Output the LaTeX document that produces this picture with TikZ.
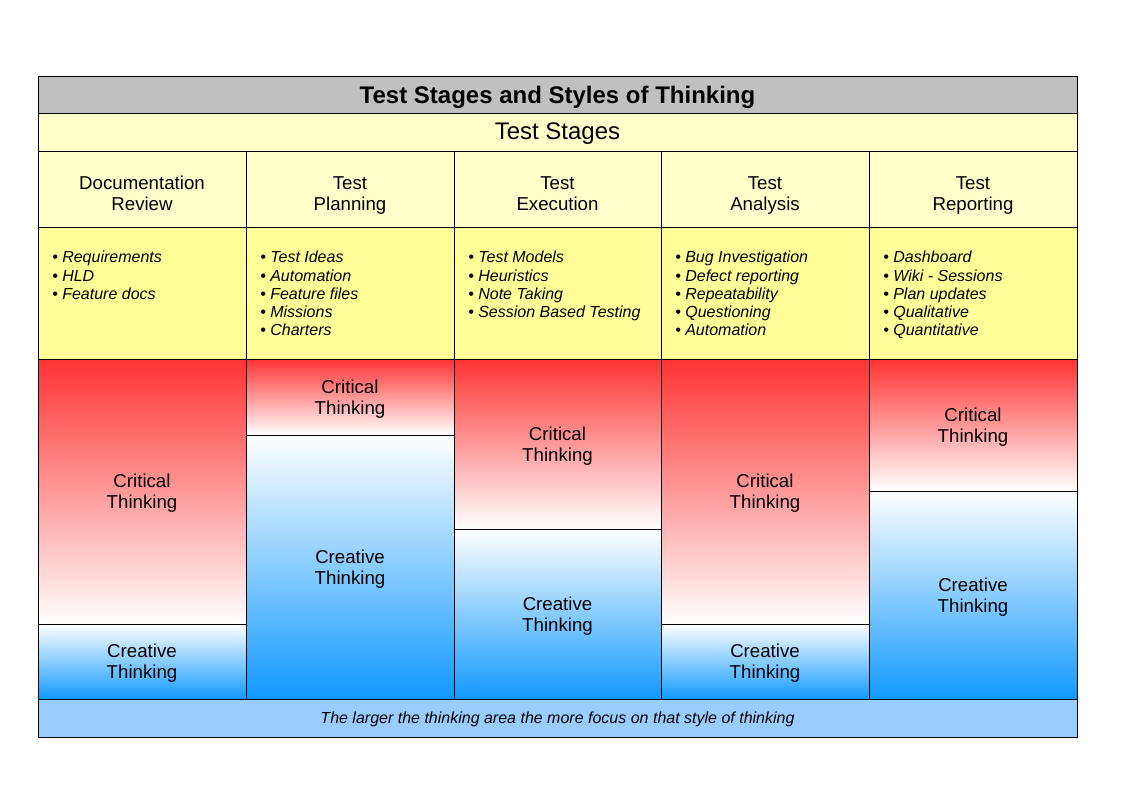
\documentclass[tikz,border=0pt]{standalone}
\usepackage{fontspec}
\setmainfont{Liberation Sans}
\definecolor{titlegray}{RGB}{192,192,192}
\definecolor{paleyellow}{RGB}{255,255,204}
\definecolor{bulletyellow}{RGB}{255,255,153}
\definecolor{critred}{RGB}{255,51,51}
\definecolor{creablue}{RGB}{17,153,255}
\definecolor{footblue}{RGB}{153,204,255}
\newcommand{\twol}[2]{\strut #1\\\strut #2}
\begin{document}
\begin{tikzpicture}[x=0.75pt,y=-0.75pt,
  cell/.style={draw=black, line width=0.75pt},
  crit/.style={cell, top color=critred, bottom color=white},
  crea/.style={cell, top color=white, bottom color=creablue},
  lbl/.style={align=center, inner sep=0pt, font=\fontsize{14}{15.8}\selectfont},
  blist/.style={align=left, anchor=north west, inner sep=0pt, font=\fontsize{12}{13.6}\selectfont\itshape},
  title/.style={inner sep=0pt, font=\fontsize{18}{20}\selectfont\bfseries},
  sub/.style={inner sep=0pt, font=\fontsize{18}{20}\selectfont},
  foot/.style={inner sep=0pt, font=\fontsize{12}{14}\selectfont\itshape}]
\useasboundingbox (0,0) rectangle (1123,794);
% rows
\draw[cell, fill=titlegray] (38,76) rectangle (1077,113);
\draw[cell, fill=paleyellow] (38,113) rectangle (1077,151);
\node[title] (t) at (557.5,97.5) {Test Stages and Styles of Thinking};
\node[sub] (ts) at (557.5,134) {Test Stages};
% headers
\foreach \a/\b in {38/246,246/454,454/661,661/869,869/1077}{
  \draw[cell, fill=paleyellow] (\a,151) rectangle (\b,227);
  \draw[cell, fill=bulletyellow] (\a,227) rectangle (\b,359);
}
\node[lbl] (h1) at (142,195.5) {\twol{Documentation}{Review}};
\node[lbl] (h2) at (350,195.5) {\twol{Test}{Planning}};
\node[lbl] (h3) at (557.5,195.5) {\twol{Test}{Execution}};
\node[lbl] (h4) at (765,195.5) {\twol{Test}{Analysis}};
\node[lbl] (h5) at (973,195.5) {\twol{Test}{Reporting}};
% bullets
\node[blist] (b1) at (52,251) {\textbullet\ Requirements\\\textbullet\ HLD\\\textbullet\ Feature docs};
\node[blist] (b2) at (260,251) {\textbullet\ Test Ideas\\\textbullet\ Automation\\\textbullet\ Feature files\\\textbullet\ Missions\\\textbullet\ Charters};
\node[blist] (b3) at (468,251) {\textbullet\ Test Models\\\textbullet\ Heuristics\\\textbullet\ Note Taking\\\textbullet\ Session Based Testing};
\node[blist] (b4) at (675,251) {\textbullet\ Bug Investigation\\\textbullet\ Defect reporting\\\textbullet\ Repeatability\\\textbullet\ Questioning\\\textbullet\ Automation};
\node[blist] (b5) at (883,251) {\textbullet\ Dashboard\\\textbullet\ Wiki - Sessions\\\textbullet\ Plan updates\\\textbullet\ Qualitative\\\textbullet\ Quantitative};
% thinking areas
\draw[crit] (38,359) rectangle (246,624);
\draw[crea] (38,624) rectangle (246,699);
\draw[crit] (246,359) rectangle (454,435);
\draw[crea] (246,435) rectangle (454,699);
\draw[crit] (454,359) rectangle (661,529);
\draw[crea] (454,529) rectangle (661,699);
\draw[crit] (661,359) rectangle (869,624);
\draw[crea] (661,624) rectangle (869,699);
\draw[crit] (869,359) rectangle (1077,491);
\draw[crea] (869,491) rectangle (1077,699);
\node[lbl] (c1) at (142,493.5) {\twol{Critical}{Thinking}};
\node[lbl] (r1) at (142,663.5) {\twol{Creative}{Thinking}};
\node[lbl] (c2) at (350,399.5) {\twol{Critical}{Thinking}};
\node[lbl] (r2) at (350,569.5) {\twol{Creative}{Thinking}};
\node[lbl] (c3) at (557.5,446.5) {\twol{Critical}{Thinking}};
\node[lbl] (r3) at (557.5,616.5) {\twol{Creative}{Thinking}};
\node[lbl] (c4) at (765,493.5) {\twol{Critical}{Thinking}};
\node[lbl] (r4) at (765,663.5) {\twol{Creative}{Thinking}};
\node[lbl] (c5) at (973,427.5) {\twol{Critical}{Thinking}};
\node[lbl] (r5) at (973,597.5) {\twol{Creative}{Thinking}};
% footer
\draw[cell, fill=footblue] (38,699) rectangle (1077,737);
\node[foot] (f) at (557.5,719) {The larger the thinking area the more focus on that style of thinking};
\end{tikzpicture}
\end{document}
